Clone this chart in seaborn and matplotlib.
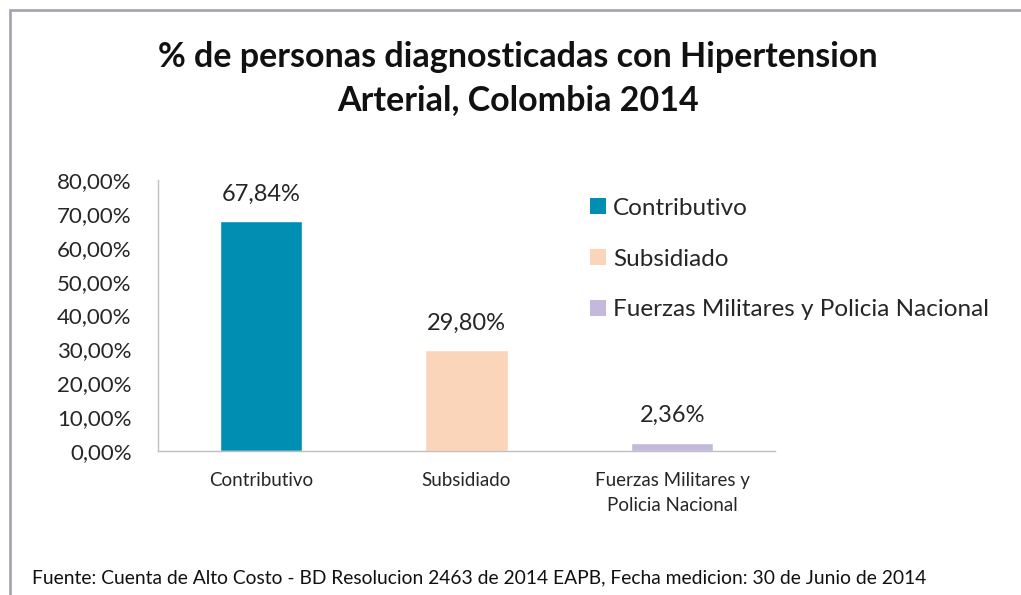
import matplotlib
matplotlib.use("Agg")
import matplotlib.pyplot as plt
import matplotlib.patches as mpatches
import seaborn as sns
import pandas as pd

categories = ["Contributivo", "Subsidiado", "Fuerzas Militares y Policia Nacional"]
tick_labels = ["Contributivo", "Subsidiado", "Fuerzas Militares y\nPolicia Nacional"]
values = [0.6784, 0.2980, 0.0236]
colors = ["#008FB2", "#FBD5B9", "#C4B9DD"]
yticks = [0.0, 0.1, 0.2, 0.3, 0.4, 0.5, 0.6, 0.7, 0.8]

sns.set_style("white")
plt.rcParams["font.family"] = ["Lato", "DejaVu Sans"]

df = pd.DataFrame({"cat": categories, "val": values})

fig = plt.figure(figsize=(10.21, 5.95), dpi=100)
ax = fig.add_axes([158/1021, 1-451/595, (775-158)/1021, (451-180)/595])
sns.barplot(data=df, x="cat", y="val", hue="cat", palette=colors, width=0.4,
            legend=False, ax=ax, saturation=1)

ax.set_xlim(-0.5, 2.5)
ax.set_ylim(0, 0.8)
ax.set_yticks(yticks)
ax.set_yticklabels([f"{v*100:.2f}%".replace(".", ",") for v in yticks], fontsize=16, color="#262626")
ax.set_xticks(range(3))
ax.set_xticklabels(tick_labels, fontsize=13.5, color="#262626", linespacing=1.55)
ax.set_xlabel("")
ax.set_ylabel("")
ax.tick_params(axis="y", length=0, pad=19)
ax.tick_params(axis="x", length=0, pad=15)
for s in ["top", "right"]:
    ax.spines[s].set_visible(False)
for s in ["left", "bottom"]:
    ax.spines[s].set_color("#BFBFBF")
    ax.spines[s].set_linewidth(1)

for i, v in enumerate(values):
    ax.annotate(f"{v*100:.2f}%".replace(".", ","), (i, v), xytext=(0, 12),
                textcoords="offset points", ha="center", va="bottom",
                fontsize=17, color="#262626")

fig.text(518/1021, 1-57/595, "% de personas diagnosticadas con Hipertension",
         ha="center", va="center", fontsize=24.5, fontweight="bold", color="#111111")
fig.text(518/1021, 1-100/595, "Arterial, Colombia 2014",
         ha="center", va="center", fontsize=24.5, fontweight="bold", color="#111111")

handles = [mpatches.Patch(facecolor=c, edgecolor="none") for c in colors]
fig.legend(handles, categories, loc="upper left", bbox_to_anchor=(568/1021, 1-176/595),
           frameon=False, fontsize=17.5, handlelength=0.65, handleheight=0.65,
           handletextpad=0.3, labelspacing=1.22, labelcolor="#262626")

fig.text(32/1021, 1-578/595,
         "Fuente: Cuenta de Alto Costo - BD Resolucion 2463 de 2014 EAPB, Fecha medicion: 30 de Junio de 2014",
         ha="left", va="center", fontsize=13.9, color="#111111")

fig.add_artist(mpatches.Rectangle((10/1021, -0.05), 1.0, 1.05 - 10/595,
                                  transform=fig.transFigure, fill=False,
                                  edgecolor="#A6A6B0", linewidth=2))

fig.savefig("out.png", dpi=100)
